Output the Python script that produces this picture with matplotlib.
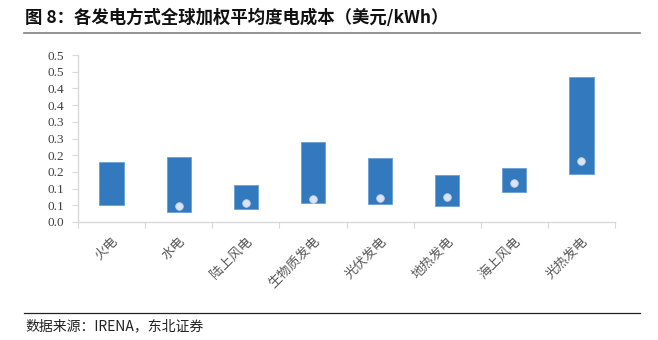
import numpy as np
import matplotlib.pyplot as plt
from matplotlib.lines import Line2D

plt.rcParams['font.family'] = ['Noto Sans CJK SC', 'DejaVu Sans']

# Data (USD/kWh)
categories = ['火电', '水电', '陆上风电', '生物质发电', '光伏发电', '地热发电', '海上风电', '光热发电']
low = [0.051, 0.031, 0.039, 0.056, 0.053, 0.049, 0.089, 0.145]
high = [0.180, 0.194, 0.111, 0.240, 0.193, 0.141, 0.161, 0.434]
avg = [np.nan, 0.049, 0.056, 0.069, 0.071, 0.076, 0.117, 0.184]
yticks = [0.0, 0.05, 0.10, 0.15, 0.20, 0.25, 0.30, 0.35, 0.40, 0.45, 0.50]
ytick_labels = ['0.0', '0.1', '0.1', '0.2', '0.2', '0.3', '0.3', '0.4', '0.4', '0.5', '0.5']

fig = plt.figure(figsize=(6.58, 3.40), dpi=100)
ax = fig.add_axes([78 / 658, 1 - 222 / 340, (615 - 78) / 658, (222 - 55) / 340])

x = np.arange(len(categories))
heights = np.array(high) - np.array(low)
ax.bar(x, heights, bottom=low, width=0.36, color='#3379BD', edgecolor='#6A9FD6', linewidth=0.6, zorder=2)
ax.scatter(x, avg, s=30, color='#DCE3F4', edgecolors='#BFD0EE', linewidths=0.6, zorder=3)

ax.set_xlim(-0.5, len(categories) - 0.5)
ax.set_ylim(0, 0.5)
ax.set_yticks(yticks)
ax.set_yticklabels(ytick_labels, family='Liberation Serif', fontsize=9.5, color='#404040')

# category boundaries as x ticks
ax.set_xticks(np.arange(len(categories) + 1) - 0.5, minor=False)
ax.set_xticklabels([])
ax.set_xticks(x, minor=True)
ax.set_xticklabels(categories, minor=True, rotation=45, ha='right', rotation_mode='anchor',
                   fontsize=9.5, color='#595959')
ax.tick_params(axis='x', which='minor', length=0, pad=9)
ax.tick_params(axis='x', which='major', length=4, color='#D9D9D9', direction='out')
ax.tick_params(axis='y', length=4, color='#D9D9D9', pad=6)

for s in ['top', 'right']:
    ax.spines[s].set_visible(False)
for s in ['left', 'bottom']:
    ax.spines[s].set_color('#D9D9D9')
    ax.spines[s].set_linewidth(1.0)

# title, rules and source
fig.text(25 / 658, 1 - 18 / 340, '图 8：各发电方式全球加权平均度电成本（美元/kWh）',
         fontsize=12.5, fontweight='bold', va='center', ha='left', color='#111111')
fig.add_artist(Line2D([24 / 658, 640 / 658], [1 - 33 / 340, 1 - 33 / 340], color='#808080', linewidth=1.2))
fig.add_artist(Line2D([24 / 658, 640 / 658], [1 - 313 / 340, 1 - 313 / 340], color='#222222', linewidth=0.9))
fig.text(25 / 658, 1 - 326 / 340, '数据来源：IRENA，东北证券', fontsize=10, va='center', ha='left', color='#222222')

fig.savefig('out.png', dpi=100)
